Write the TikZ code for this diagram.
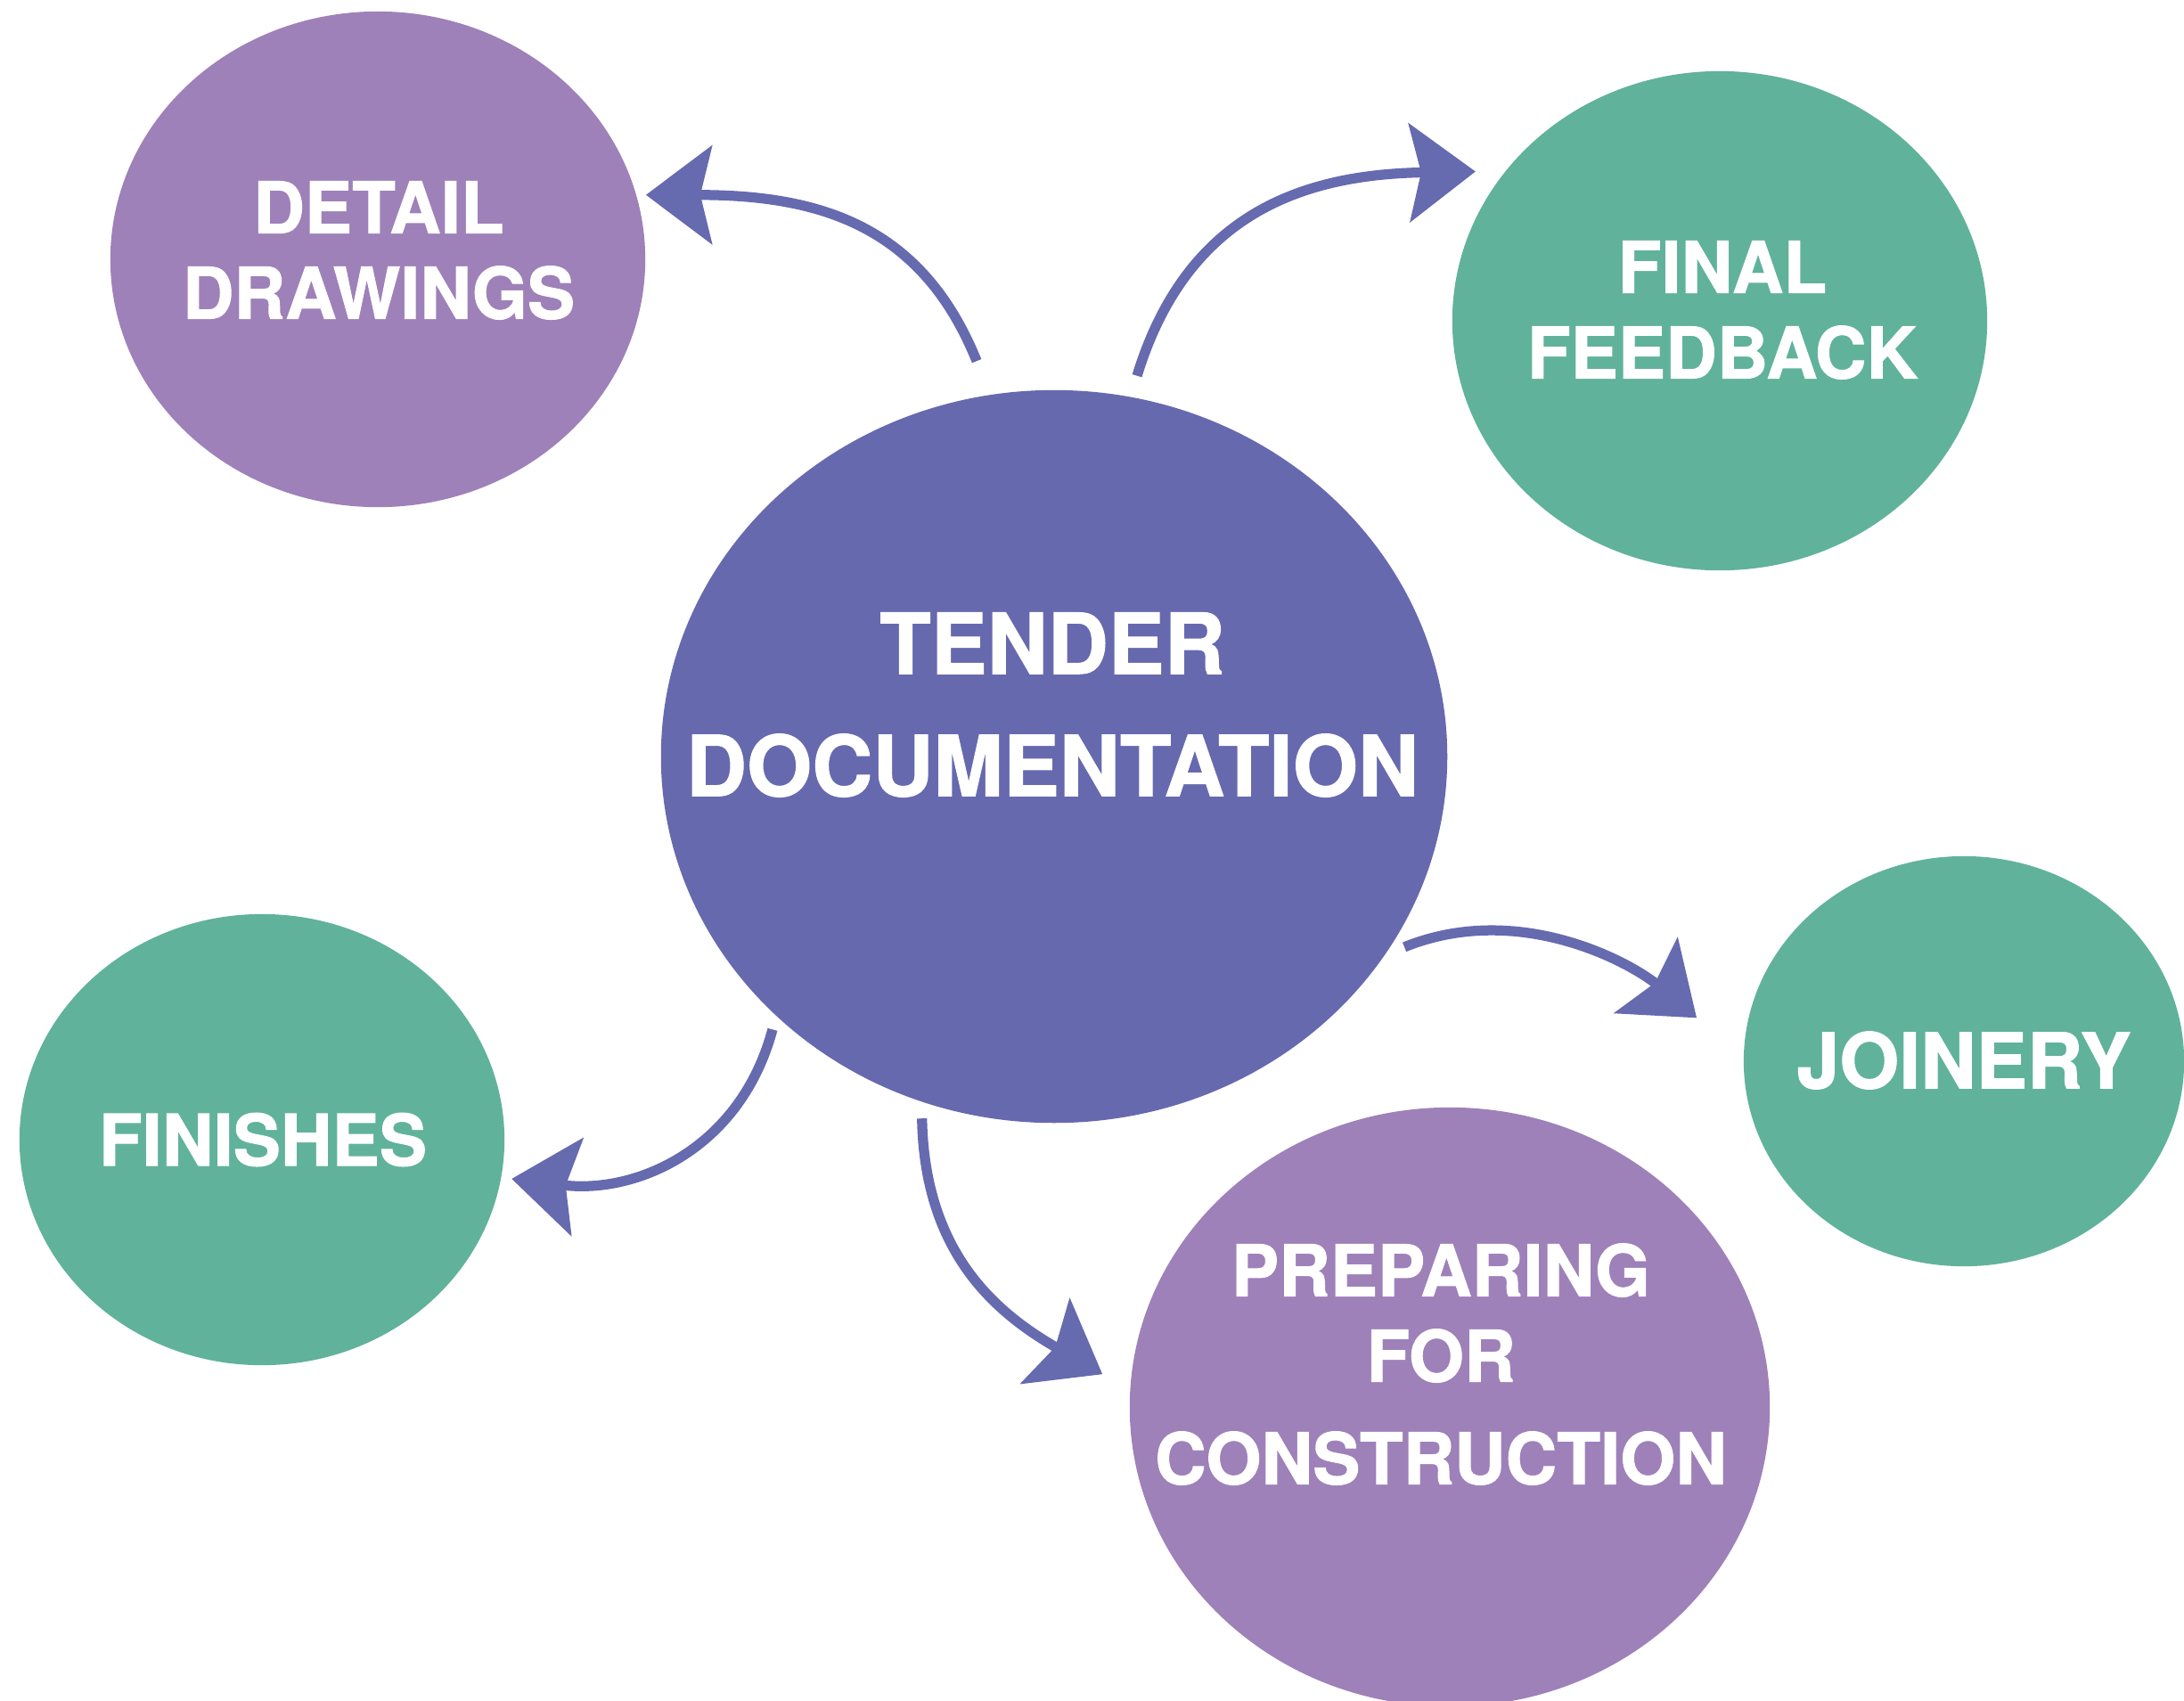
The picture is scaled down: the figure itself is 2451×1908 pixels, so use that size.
\documentclass[tikz,border=0pt]{standalone}
\usepackage{fontspec}
\setmainfont{TeX Gyre Heros}[BoldFeatures={FakeBold=1.2}]
\usetikzlibrary{shapes.geometric,arrows.meta}
\definecolor{tenderblue}{HTML}{6769AF}
\definecolor{stagepurple}{HTML}{9E81B9}
\definecolor{stagegreen}{HTML}{61B29B}
\definecolor{flowblue}{HTML}{666AAF}
\tikzset{
	bubble/.style={ellipse, fill=#1, inner sep=0pt, outer sep=0pt},
	stagetext/.style={text=white, align=center, inner sep=0pt, font=\fontsize{22.7pt}{27.3pt}\selectfont\bfseries},
	maintext/.style={stagetext, font=\fontsize{26.8pt}{39pt}\selectfont\bfseries},
	flow/.style={draw=flowblue, line width=3.2pt, -{Stealth[length=0.74cm,width=1.1cm,inset=0.13cm]}},
}
\begin{document}
\begin{tikzpicture}[x=0.01cm, y=0.01cm]
	\useasboundingbox (0,0) rectangle (2451,-1908);
	\clip (0,0) rectangle (2451,-1908);
	% stages
	\node[bubble=tenderblue, minimum width=8.82cm, minimum height=8.22cm] (tender) at (1183,-849) {};
	\node[bubble=stagepurple, minimum width=6cm, minimum height=5.56cm] (detail) at (424,-291) {};
	\node[bubble=stagegreen, minimum width=6cm, minimum height=5.6cm] (feedback) at (1930,-360) {};
	\node[bubble=stagegreen, minimum width=4.94cm, minimum height=4.6cm] (joinery) at (2204,-1191) {};
	\node[bubble=stagegreen, minimum width=5.44cm, minimum height=5.06cm] (finishes) at (294,-1279) {};
	\node[bubble=stagepurple, minimum width=7.18cm, minimum height=6.72cm] (preparing) at (1627,-1579) {};
	% labels
	\node[maintext] (tender-t) at (1181,-791) {TENDER\\DOCUMENTATION};
	\node[stagetext] (detail-t) at (425,-281) {DETAIL\\DRAWINGS};
	\node[stagetext] (feedback-t) at (1933,-348) {FINAL\\FEEDBACK};
	\node[stagetext, font=\fontsize{24.5pt}{29pt}\selectfont\bfseries] (joinery-t) at (2204,-1190) {JOINERY};
	\node[stagetext] (finishes-t) at (295,-1279) {FINISHES};
	\node[stagetext] (preparing-t) at (1617,-1531) {PREPARING\\FOR\\[0.19cm]CONSTRUCTION};
	% arrows
	\draw[flow, shorten <=0.41cm, shorten >=0.11cm] (tender.100) to[out=112, in=0, looseness=1.15] (detail.14);
	\draw[flow, shorten <=0.25cm, shorten >=0.34cm] (tender.78) to[out=73, in=181, looseness=1.15] (feedback.145);
	\draw[flow, shorten <=0.24cm, shorten >=0.69cm] (tender.-31) to[out=22, in=140] (joinery.179);
	\draw[flow, shorten <=0.16cm, shorten >=0.12cm] (tender.223) to[out=255, in=353, looseness=1.1] (finishes.-9.5);
	\draw[flow, shorten <=0.19cm, shorten >=0.36cm] (tender.249) to[out=271, in=150, looseness=1.1] (preparing.177);
\end{tikzpicture}
\end{document}
